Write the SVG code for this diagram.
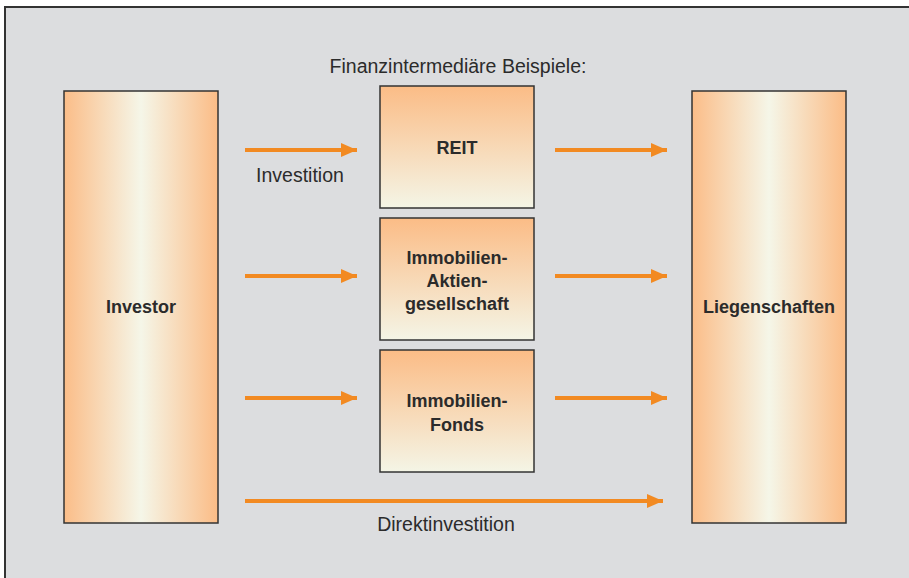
<svg xmlns="http://www.w3.org/2000/svg" width="909" height="578" viewBox="0 0 909 578">
<defs>
<linearGradient id="gh" x1="0" y1="0" x2="1" y2="0">
<stop offset="0" stop-color="#fbbd88"/>
<stop offset="0.5" stop-color="#f5f6e8"/>
<stop offset="1" stop-color="#fbbc86"/>
</linearGradient>
<linearGradient id="gv" x1="0" y1="0" x2="0" y2="1">
<stop offset="0" stop-color="#fbbc86"/>
<stop offset="1" stop-color="#f4f5e6"/>
</linearGradient>
<marker id="ah" markerWidth="16" markerHeight="14" refX="16" refY="7" orient="auto" markerUnits="userSpaceOnUse">
<path d="M0,0 L16,7 L0,14 Z" fill="#f28a22"/>
</marker>
<style>
.box{stroke:#333;stroke-width:1.5}
.lbl{font-family:"Liberation Sans",Arial,sans-serif;font-weight:bold;font-size:18px;fill:#2b2b2b;text-anchor:middle}
.txt{font-family:"Liberation Sans",Arial,sans-serif;font-size:19.5px;fill:#2b2b2b;text-anchor:middle}
.arr{stroke:#f28a22;stroke-width:4;fill:none;marker-end:url(#ah)}
</style>
</defs>
<rect x="0" y="0" width="909" height="578" fill="#ffffff"/>
<rect x="5" y="7" width="910" height="580" fill="#dcdddf"/>
<path d="M5,578 V7 H909" fill="none" stroke="#333" stroke-width="2"/>
<text class="txt" x="458" y="73" font-size="17.1">Finanzintermediäre Beispiele:</text>
<g id="investor">
<rect class="box" x="64" y="91" width="154" height="432" fill="url(#gh)"/>
<text class="lbl" x="141" y="313">Investor</text>
</g>
<g id="liegenschaften">
<rect class="box" x="692" y="91" width="154" height="432" fill="url(#gh)"/>
<text class="lbl" x="769" y="313">Liegenschaften</text>
</g>
<g id="reit">
<rect class="box" x="380" y="86" width="154" height="122" fill="url(#gv)"/>
<text class="lbl" x="457" y="154">REIT</text>
</g>
<g id="aktiengesellschaft">
<rect class="box" x="380" y="218" width="154" height="122" fill="url(#gv)"/>
<text class="lbl" x="457" y="264">Immobilien-</text>
<text class="lbl" x="457" y="287">Aktien-</text>
<text class="lbl" x="457" y="310">gesellschaft</text>
</g>
<g id="fonds">
<rect class="box" x="380" y="350" width="154" height="122" fill="url(#gv)"/>
<text class="lbl" x="457" y="407">Immobilien-</text>
<text class="lbl" x="457" y="431">Fonds</text>
</g>
<g id="connectors">
<line class="arr" x1="245" y1="150" x2="357" y2="150"/>
<line class="arr" x1="245" y1="276" x2="357" y2="276"/>
<line class="arr" x1="245" y1="398" x2="357" y2="398"/>
<line class="arr" x1="555" y1="150" x2="667" y2="150"/>
<line class="arr" x1="555" y1="276" x2="667" y2="276"/>
<line class="arr" x1="555" y1="398" x2="667" y2="398"/>
<line class="arr" x1="245" y1="501" x2="663" y2="501"/>
<text class="txt" x="300" y="182">Investition</text>
<text class="txt" x="446" y="531">Direktinvestition</text>
</g>
</svg>
